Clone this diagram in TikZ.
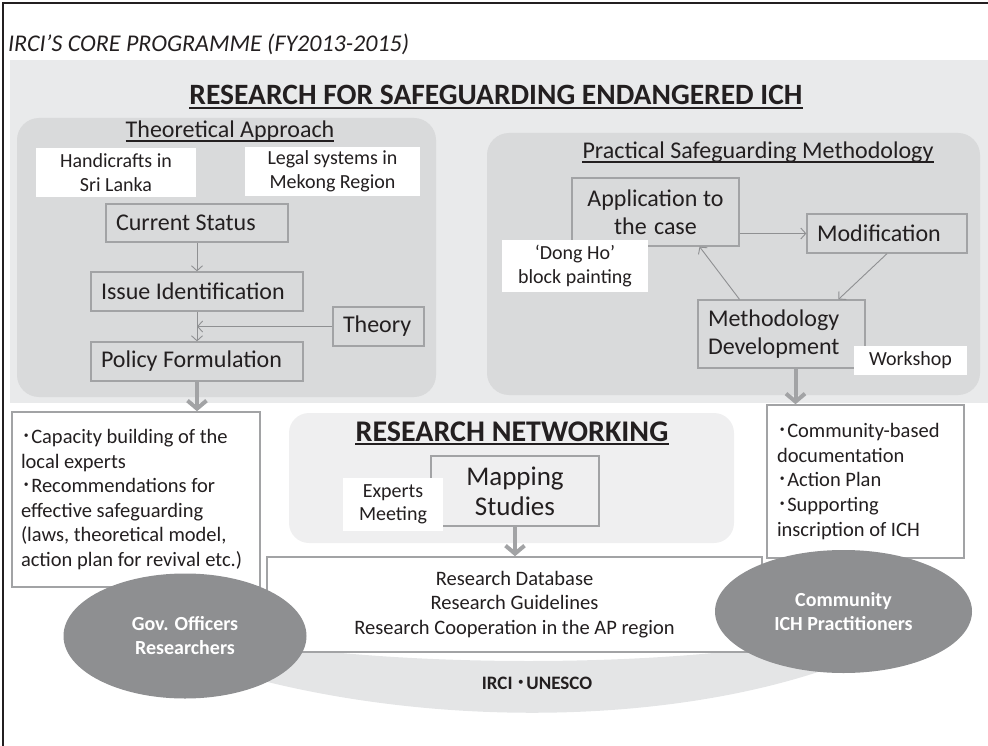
\documentclass[tikz,border=0pt]{standalone}
\usepackage{fontspec}
\setmainfont{Carlito}
\newfontfamily\cjk{Noto Sans CJK JP}
\usepackage{tikz}
\usetikzlibrary{shapes.geometric}
\usetikzlibrary{arrows.meta}
\definecolor{backGrey}{HTML}{E9EAEB}
\definecolor{panelGrey}{HTML}{D9DADB}
\definecolor{netGrey}{HTML}{EFEFF0}
\definecolor{bandGrey}{HTML}{E4E5E6}
\definecolor{edgeGrey}{HTML}{A2A3A5}
\definecolor{arrowGrey}{HTML}{8F9092}
\definecolor{ovalGrey}{HTML}{8E8F91}
\definecolor{inkGrey}{HTML}{231F20}
\newcommand{\dotMark}{{\cjk ･}}
\newcommand{\underNode}[2]{%%
  %% Underline a heading node just below its base line.
  \draw[inkGrey,line width=#2] ([yshift=-3]#1.base west) --
  ([yshift=-3]#1.base east);
}

\begin{document}
\begin{tikzpicture}[%%
  x=1pt,y=-1pt,%%
  fontSpace/.style={execute at begin node={\spaceskip=\fontdimen2\font plus
    \fontdimen3\font minus \fontdimen4\font\relax}},%%
  boxStyle/.style={draw=edgeGrey,line width=1.3pt,inner xsep=10pt,inner ysep=0pt,%%
    align=left,fontSpace,text=inkGrey,font=\fontsize{24}{28}\selectfont},%%
  labelStyle/.style={fill=white,inner sep=0pt,align=center,text=inkGrey,%%
    font=\fontsize{20}{23.5}\selectfont},%%
  listStyle/.style={draw=edgeGrey,line width=1.5pt,fill=white,inner xsep=9pt,%%
    inner ysep=0pt,align=left,fontSpace,text=inkGrey,font=\fontsize{20.5}{24.6}\selectfont},%%
  ovalStyle/.style={ellipse,fill=ovalGrey,inner sep=0pt,align=center,text=white,%%
    font=\bfseries\fontsize{20}{24}\selectfont},%%
  headStyle/.style={inner sep=0pt,anchor=base,text=inkGrey},%%
  thinArrow/.style={-{Straight Barb[length=5pt,width=11pt]},draw=arrowGrey,line width=0.9pt},%%
  thickArrow/.style={-{Straight Barb[length=8pt,width=19pt]},draw=edgeGrey,line width=4pt}%%
]
\useasboundingbox (0,0) rectangle (988,746);
%%
%% Frame and grey fields.
\draw[inkGrey,line width=1.5pt] (3,746) -- (3,3) -- (988,3);
\fill[backGrey] (10,60) rectangle (988,403);
\fill[panelGrey,rounded corners=22pt] (17,118) rectangle (436,397);
\fill[panelGrey,rounded corners=22pt] (487,133) rectangle (980,395);
\fill[netGrey,rounded corners=20pt] (289,413) rectangle (734,543);
\fill[bandGrey] (240,640) .. controls (400,668) and (660,668) .. (810,640) --
  (830,668) .. controls (660,727) and (420,727) .. (230,672) -- cycle;
%%
%% Headings.
\node[headStyle,anchor=base west,font=\itshape\fontsize{24}{28}\selectfont] (coreTitle)
  at (8,52) {IRCI’S CORE PROGRAMME (FY2013-2015)};
\node[headStyle,font=\bfseries\fontsize{29.5}{34}\selectfont] (safeTitle) at (496,105)
  {RESEARCH FOR SAFEGUARDING ENDANGERED ICH};
\node[headStyle,font=\fontsize{24}{28}\selectfont] (theoryTitle) at (230,138)
  {Theoretical Approach};
\node[headStyle,font=\fontsize{24}{28}\selectfont] (practiceTitle) at (758,159)
  {Practical Safeguarding Methodology};
\node[headStyle,font=\bfseries\fontsize{30}{34}\selectfont] (networkTitle) at (512,441)
  {RESEARCH NETWORKING};
\underNode{safeTitle}{2pt}
\underNode{theoryTitle}{1.2pt}
\underNode{practiceTitle}{1.2pt}
\underNode{networkTitle}{2pt}
%%
%% Theoretical approach.
\node[labelStyle,minimum width=160pt,minimum height=49pt] (handicrafts) at (116,172.5)
  {Handicrafts in\\Sri Lanka};
\node[labelStyle,minimum width=175pt,minimum height=49pt] (legalSystems) at (332.5,171.5)
  {Legal systems in\\Mekong Region};
\node[boxStyle,text width=162pt,minimum height=38pt] (currentStatus) at (197,223)
  {Current Status};
\node[boxStyle,text width=192pt,minimum height=39pt] (issueIdent) at (197,291.5)
  {Issue Identification};
\node[boxStyle,text width=192pt,minimum height=39pt] (policyForm) at (197,361.5)
  {Policy Formulation};
\node[boxStyle,text width=71pt,minimum height=39pt] (theory) at (378.5,326.5) {Theory};
\draw[thinArrow] (currentStatus) -- (issueIdent);
\draw[thinArrow] (issueIdent) -- (policyForm);
\draw[thinArrow] (theory.west) -- (theory.west -| issueIdent.south);
%%
%% Practical safeguarding methodology.
\node[boxStyle,align=center,text width=147pt,minimum height=68pt] (applyCase)
  at (655.5,212) {Application to\\the case};
\node[boxStyle,text width=140pt,minimum height=39pt] (modification) at (887,233.5)
  {Modification};
\node[boxStyle,text width=147pt,minimum height=68pt] (methDev) at (781.5,334)
  {Methodology\\Development};
\node[labelStyle,minimum width=146pt,minimum height=52pt] (dongHo) at (575,266)
  {‘Dong Ho’\\block painting};
\node[labelStyle,minimum width=113pt,minimum height=29pt] (workshop) at (910.5,360.5)
  {Workshop};
\draw[thinArrow] (applyCase.east |- modification.west) -- (modification.west);
\draw[thinArrow] (modification.south) -- ([xshift=57]methDev.north);
\draw[thinArrow] ([xshift=-42]methDev.north) -- ([xshift=44]applyCase.south);
%%
%% Research networking.
\node[boxStyle,line width=2pt,align=center,text width=148pt,minimum height=70pt,%%
  font=\fontsize{27}{30}\selectfont] (mapping) at (515,491) {Mapping\\Studies};
\node[labelStyle,minimum width=100pt,minimum height=53pt] (experts) at (393,504.5)
  {Experts\\Meeting};
\node[listStyle,align=center,minimum width=495pt,minimum height=95pt] (database)
  at (514.5,604.5)
  {Research Database\\Research Guidelines\\Research Cooperation in the AP region};
%%
%% Outcomes and actors.
\node[listStyle,text width=230pt,minimum height=175pt] (capacity) at (136,499.5)
  {\dotMark Capacity building of the\\local experts\\\dotMark Recommendations for\\%%
  effective safeguarding\\(laws, theoretical model,\\action plan for revival etc.)};
\node[listStyle,inner xsep=10pt,text width=177pt,minimum height=153pt] (communityList)
  at (865.5,481.5)
  {\dotMark Community-based\\documentation\\\dotMark Action Plan\\%%
  \dotMark Supporting\\inscription of ICH};
\node[ovalStyle,minimum width=243pt,minimum height=125pt] (govOfficers) at (185,636)
  {Gov. Officers\\Researchers};
\node[ovalStyle,minimum width=257pt,minimum height=123pt] (community) at (843.5,611.5)
  {Community\\ICH Practitioners};
\node[inner sep=0pt,text=inkGrey,font=\bfseries\fontsize{19}{22}\selectfont] (irciUnesco)
  at (537,683) {IRCI \dotMark UNESCO};
%%
%% Thick arrows to the outcomes.
\draw[thickArrow] (policyForm.south) -- (policyForm.south |- capacity.north);
\draw[thickArrow] ([xshift=14]methDev.south) --
  ([xshift=14]methDev.south |- communityList.north);
\draw[thickArrow] (mapping.south) -- (mapping.south |- database.north);
\end{tikzpicture}
\end{document}
